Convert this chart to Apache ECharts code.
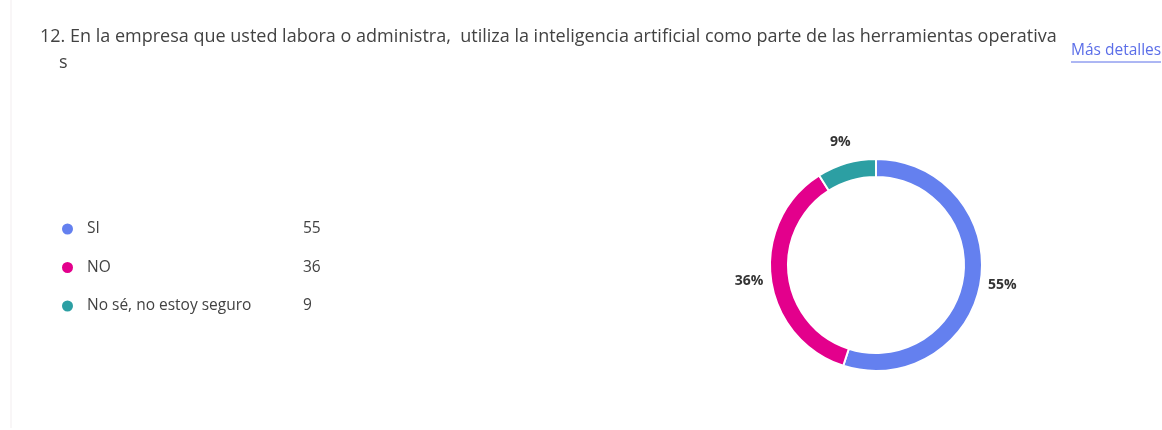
<!DOCTYPE html>
<html>
<head>
    <meta charset="UTF-8">
    <title>Encuesta pregunta 12</title>
    <script src="https://cdn.jsdelivr.net/npm/echarts@6/dist/echarts.min.js"></script>
    <style>
        html, body { margin: 0; padding: 0; background: #fff; }
        #chart { width: 1162px; height: 430px; }
    </style>
</head>
<body>
<div id="chart"></div>
<script>
    // datos de la pregunta
    var categorias = ['SI', 'NO', 'No sé, no estoy seguro'];
    var respuestas = [55, 36, 9];
    var colores = ['#6480EF', '#E3008C', '#2C9FA3'];

    var fuente = '"Open Sans", "Noto Sans", sans-serif';

    var datos = categorias.map(function (c, i) {
        return { name: c, value: respuestas[i], itemStyle: { color: colores[i] } };
    });

    var myChart = echarts.init(document.getElementById('chart'));

    var option = {
        backgroundColor: '#fff',
        textStyle: { fontFamily: fuente },
        title: [
            {
                text: '12. En la empresa que usted labora o administra,  utiliza la inteligencia artificial como parte de las herramientas operativa',
                left: 35, top: 23,
                textStyle: { fontSize: 18, fontWeight: 'normal', color: '#424242', fontFamily: fuente }
            },
            {
                text: 's',
                left: 54, top: 49,
                textStyle: { fontSize: 18, fontWeight: 'normal', color: '#424242', fontFamily: fuente }
            }
        ],
        graphic: [
            {
                type: 'line',
                shape: { x1: 11, y1: 0, x2: 11, y2: 428 },
                style: { stroke: '#F2EDEF', lineWidth: 1 }
            },
            {
                type: 'text',
                left: 1071, top: 43,
                style: { text: 'Más detalles', fill: '#5B6EE8', font: '15.5px ' + fuente }
            },
            {
                type: 'line',
                shape: { x1: 1071, y1: 62, x2: 1161, y2: 62 },
                style: { stroke: '#5B6EE8', lineWidth: 1 }
            }
        ],
        legend: {
            orient: 'vertical',
            left: 55, top: 216,
            icon: 'circle',
            itemWidth: 29, itemHeight: 13,
            itemGap: 22.5,
            selectedMode: false,
            data: categorias,
            formatter: function (name) {
                var i = categorias.indexOf(name);
                return '{n|' + name + '}{v|' + respuestas[i] + '}';
            },
            textStyle: {
                color: '#424242',
                fontSize: 15.5,
                rich: {
                    n: { width: 216, fontSize: 15.5, height: 22, color: '#424242', fontFamily: fuente },
                    v: { fontSize: 15.5, height: 22, color: '#424242', fontFamily: fuente }
                }
            }
        },
        series: [
            {
                type: 'pie',
                center: [876, 265],
                radius: [88, 106],
                startAngle: 90,
                clockwise: true,
                silent: true,
                itemStyle: { borderColor: '#fff', borderWidth: 2 },
                label: { show: false },
                labelLine: { show: false },
                data: datos
            },
            {
                // anillo transparente solo para colocar los porcentajes
                type: 'pie',
                center: [876, 265],
                radius: [106, 144],
                startAngle: 90,
                clockwise: true,
                silent: true,
                legendHoverLink: false,
                itemStyle: { color: 'rgba(0,0,0,0)' },
                label: {
                    show: true,
                    position: 'inside',
                    formatter: '{d}%',
                    fontSize: 14,
                    fontWeight: 'bold',
                    color: '#333',
                    fontFamily: fuente
                },
                labelLine: { show: false },
                data: categorias.map(function (c, i) {
                    return { name: c, value: respuestas[i] };
                })
            }
        ]
    };

    myChart.setOption(option);
</script>
</body>
</html>
